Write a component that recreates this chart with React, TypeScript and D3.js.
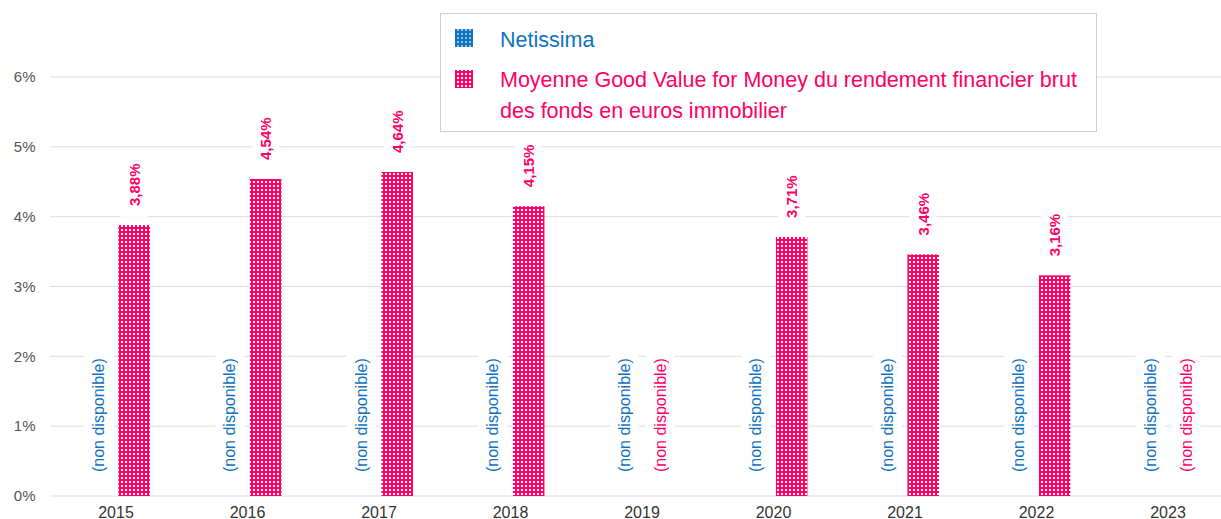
import React from "react";
import * as d3 from "d3";

const years = ["2015", "2016", "2017", "2018", "2019", "2020", "2021", "2022", "2023"];
const seriesNames = ["Netissima", "Moyenne Good Value for Money du rendement financier brut des fonds en euros immobilier"];
const netissima: (number | null)[] = [null, null, null, null, null, null, null, null, null];
const moyenne: (number | null)[] = [3.88, 4.54, 4.64, 4.15, null, 3.71, 3.46, 3.16, null];
const yTicks = [0, 1, 2, 3, 4, 5, 6];
const legendLines = [["Netissima"], ["Moyenne Good Value for Money du rendement financier brut", "des fonds en euros immobilier"]];

const W = 1221;
const H = 519;
const BLUE = "#0f72c2";
const PINK = "#ff0066";
const FONT = "'Liberation Sans', Arial, sans-serif";

export default function App() {
  const x0 = d3.scaleBand<string>().domain(years).range([50.25, 1233.75]).padding(0);
  const x1 = d3.scaleBand<number>().domain([0, 1]).range([28, 104]).padding(0.12);
  const y = d3.scaleLinear().domain([0, 7]).range([496, 7.2]);
  const series = [netissima, moyenne];
  const colors = [BLUE, PINK];
  const fmt = (v: number) => v.toFixed(2).replace(".", ",") + "%";
  const ndText = "(non disponible)";

  return (
    <svg width={W} height={H} style={{ position: "absolute", left: 0, top: 0, fontFamily: FONT }}>
      <defs>
        <pattern id="patPink" width="4" height="4" patternUnits="userSpaceOnUse">
          <rect width="4" height="4" fill={PINK} />
          <rect x="1" y="1" width="2" height="2" fill="#ffffff" />
        </pattern>
        <pattern id="patBlue" width="4" height="4" patternUnits="userSpaceOnUse">
          <rect width="4" height="4" fill={BLUE} />
          <rect x="1" y="1" width="2" height="2" fill="#8ec3f0" />
        </pattern>
      </defs>
      <rect width={W} height={H} fill="#fff" />
      {yTicks.map((t) => (
        <g key={t}>
          <line x1={50} x2={W} y1={y(t)} y2={y(t)} stroke="#dcdcdc" strokeWidth={1} />
          <text x={35.5} y={y(t)} dy="0.35em" textAnchor="end" fontSize={15} fill="#555">
            {t + "%"}
          </text>
        </g>
      ))}
      {years.map((yr, i) => {
        const bx = x0(yr)!;
        return (
          <g key={yr}>
            {series.map((s, si) => {
              const v = s[i];
              const cx = bx + x1(si)! + x1.bandwidth() / 2;
              if (v == null) {
                return (
                  <g key={si}>
                    <rect x={cx - 14.5} y={351} width={29} height={126} fill="#fff" />
                    <text
                      transform={`translate(${cx},${472}) rotate(-90)`}
                      textAnchor="start"
                      dominantBaseline="central"
                      fontSize={16}
                      fill={colors[si]}
                    >
                      {ndText}
                    </text>
                  </g>
                );
              }
              const top = y(v);
              return (
                <g key={si}>
                  <rect
                    x={bx + x1(si)!}
                    y={top}
                    width={x1.bandwidth()}
                    height={y(0) - top}
                    fill={si === 1 ? "url(#patPink)" : "url(#patBlue)"}
                  />
                  <rect x={cx - 13.5} y={top - 67} width={27} height={59} fill="#fff" />
                  <text
                    transform={`translate(${cx},${top - 19}) rotate(-90)`}
                    textAnchor="start"
                    dominantBaseline="central"
                    fontSize={15}
                    fontWeight="bold"
                    fill={colors[si]}
                  >
                    {fmt(v)}
                  </text>
                </g>
              );
            })}
            <text x={bx + x0.bandwidth() / 2} y={517.5} textAnchor="middle" fontSize={16} fill="#333">
              {yr}
            </text>
          </g>
        );
      })}
      <g>
        <rect x={440.5} y={13.5} width={656} height={118} fill="#fff" stroke="#cfcfcf" strokeWidth={1} />
        <rect x={455} y={29} width={18} height={18} fill="url(#patBlue)" />
        <text x={500} y={47} fontSize={21.5} fill={BLUE}>
          {legendLines[0][0]}
        </text>
        <rect x={455} y={70} width={18} height={18} fill="url(#patPink)" />
        {legendLines[1].map((l, li) => (
          <text key={li} x={500} y={87 + li * 31} fontSize={21.5} fill={PINK}>
            {l}
          </text>
        ))}
      </g>
    </svg>
  );
}
